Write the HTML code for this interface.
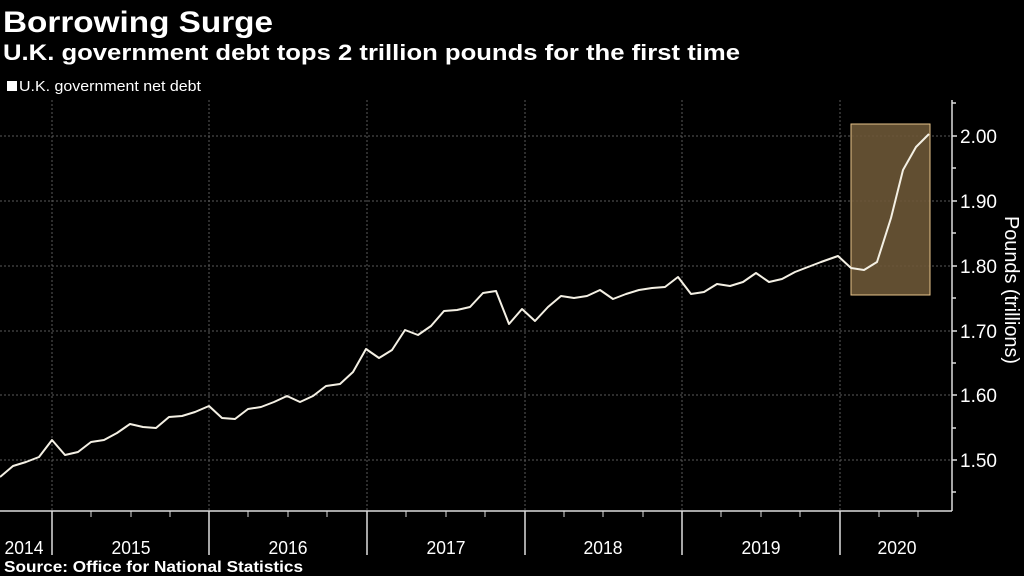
<!DOCTYPE html>
<html><head><meta charset="utf-8"><style>
html,body{margin:0;padding:0;background:#000;}
svg{display:block;font-family:"Liberation Sans",sans-serif;}
</style></head><body>
<svg width="1024" height="576" viewBox="0 0 1024 576" xmlns="http://www.w3.org/2000/svg">
<rect width="1024" height="576" fill="#000"/>
<text x="3" y="32" fill="#fff" font-size="30" font-weight="bold" textLength="270" lengthAdjust="spacingAndGlyphs">Borrowing Surge</text>
<text x="3" y="60" fill="#fff" font-size="22" font-weight="bold" textLength="737" lengthAdjust="spacingAndGlyphs">U.K. government debt tops 2 trillion pounds for the first time</text>
<rect x="7" y="81" width="10" height="10" fill="#fff"/>
<text x="19" y="91" fill="#fff" font-size="15" textLength="182" lengthAdjust="spacingAndGlyphs">U.K. government net debt</text>
<g stroke="#5a5a5a" stroke-width="1" stroke-dasharray="2,2">
<line x1="0" y1="136" x2="952" y2="136"/><line x1="0" y1="201" x2="952" y2="201"/>
<line x1="0" y1="266" x2="952" y2="266"/><line x1="0" y1="331" x2="952" y2="331"/>
<line x1="0" y1="395" x2="952" y2="395"/><line x1="0" y1="460" x2="952" y2="460"/>
<line x1="52" y1="100" x2="52" y2="511"/><line x1="209" y1="100" x2="209" y2="511"/>
<line x1="367" y1="100" x2="367" y2="511"/><line x1="525" y1="100" x2="525" y2="511"/>
<line x1="682" y1="100" x2="682" y2="511"/><line x1="840" y1="100" x2="840" y2="511"/>
</g>
<g stroke="#ddd" stroke-width="1.5">
<line x1="0" y1="511" x2="952" y2="511"/>
<line x1="952" y1="100" x2="952" y2="511"/>
<line x1="52" y1="511" x2="52" y2="555"/><line x1="209" y1="511" x2="209" y2="555"/>
<line x1="367" y1="511" x2="367" y2="555"/><line x1="525" y1="511" x2="525" y2="555"/>
<line x1="682" y1="511" x2="682" y2="555"/><line x1="840" y1="511" x2="840" y2="555"/>
<line x1="952" y1="136" x2="957" y2="136"/><line x1="952" y1="201" x2="957" y2="201"/>
<line x1="952" y1="266" x2="957" y2="266"/><line x1="952" y1="331" x2="957" y2="331"/>
<line x1="952" y1="395" x2="957" y2="395"/><line x1="952" y1="460" x2="957" y2="460"/>
<line x1="952" y1="168" x2="956" y2="168"/><line x1="952" y1="233" x2="956" y2="233"/>
<line x1="952" y1="298" x2="956" y2="298"/><line x1="952" y1="363" x2="956" y2="363"/>
<line x1="952" y1="428" x2="956" y2="428"/><line x1="952" y1="492" x2="956" y2="492"/>
<line x1="952" y1="103" x2="956" y2="103"/>
</g>
<g stroke="#ddd" stroke-width="1">
<line x1="91" y1="511" x2="91" y2="517"/><line x1="131" y1="511" x2="131" y2="517"/><line x1="170" y1="511" x2="170" y2="517"/>
<line x1="248" y1="511" x2="248" y2="517"/><line x1="288" y1="511" x2="288" y2="517"/><line x1="327" y1="511" x2="327" y2="517"/>
<line x1="406" y1="511" x2="406" y2="517"/><line x1="446" y1="511" x2="446" y2="517"/><line x1="485" y1="511" x2="485" y2="517"/>
<line x1="564" y1="511" x2="564" y2="517"/><line x1="603" y1="511" x2="603" y2="517"/><line x1="643" y1="511" x2="643" y2="517"/>
<line x1="721" y1="511" x2="721" y2="517"/><line x1="761" y1="511" x2="761" y2="517"/><line x1="800" y1="511" x2="800" y2="517"/>
<line x1="879" y1="511" x2="879" y2="517"/><line x1="918" y1="511" x2="918" y2="517"/>
</g>
<rect x="851" y="124" width="79" height="171" fill="#6b5636" fill-opacity="0.9" stroke="#e8c48a" stroke-width="1"/>
<polyline fill="none" stroke="#f4f0e4" stroke-width="2" stroke-linejoin="round" points="0,477 13,466 26,462 39,457 52,440 65,455 78,452 91,442 104,440 117,433 130,424 143,427 156,428 169,417 182,416 195,412 209,406 222,418 235,419 248,409 261,407 274,402 287,396 300,402 313,396 326,386 340,384 353,372 366,349 379,358 392,350 405,330 418,335 431,326 444,311 457,310 470,307 483,293 496,291 509,324 522,309 535,321 548,307 561,296 574,298 587,296 600,290 613,299 626,294 639,290 652,288 665,287 678,277 691,294 704,292 717,284 730,286 743,282 756,273 769,282 782,279 795,272 808,267 821,262 838,256 851,268 864,270 877,262 891,218 903,170 916,147 929,134"/>
<g fill="#fff" font-size="19">
<text x="960" y="143" textLength="37" lengthAdjust="spacingAndGlyphs">2.00</text>
<text x="960" y="208" textLength="37" lengthAdjust="spacingAndGlyphs">1.90</text>
<text x="960" y="273" textLength="37" lengthAdjust="spacingAndGlyphs">1.80</text>
<text x="960" y="338" textLength="37" lengthAdjust="spacingAndGlyphs">1.70</text>
<text x="960" y="402" textLength="37" lengthAdjust="spacingAndGlyphs">1.60</text>
<text x="960" y="467" textLength="37" lengthAdjust="spacingAndGlyphs">1.50</text>
</g>
<text transform="translate(1005,216) rotate(90)" fill="#fff" font-size="20" textLength="148" lengthAdjust="spacingAndGlyphs">Pounds (trillions)</text>
<g fill="#fff" font-size="18" text-anchor="middle">
<text x="24" y="554" textLength="39" lengthAdjust="spacingAndGlyphs">2014</text><text x="131" y="554" textLength="39" lengthAdjust="spacingAndGlyphs">2015</text><text x="288" y="554" textLength="39" lengthAdjust="spacingAndGlyphs">2016</text>
<text x="446" y="554" textLength="39" lengthAdjust="spacingAndGlyphs">2017</text><text x="603" y="554" textLength="39" lengthAdjust="spacingAndGlyphs">2018</text><text x="761" y="554" textLength="39" lengthAdjust="spacingAndGlyphs">2019</text>
<text x="897" y="554" textLength="39" lengthAdjust="spacingAndGlyphs">2020</text>
</g>
<text x="4" y="572" fill="#fff" font-size="16" font-weight="bold" textLength="299" lengthAdjust="spacingAndGlyphs">Source: Office for National Statistics</text>
</svg>
</body></html>
